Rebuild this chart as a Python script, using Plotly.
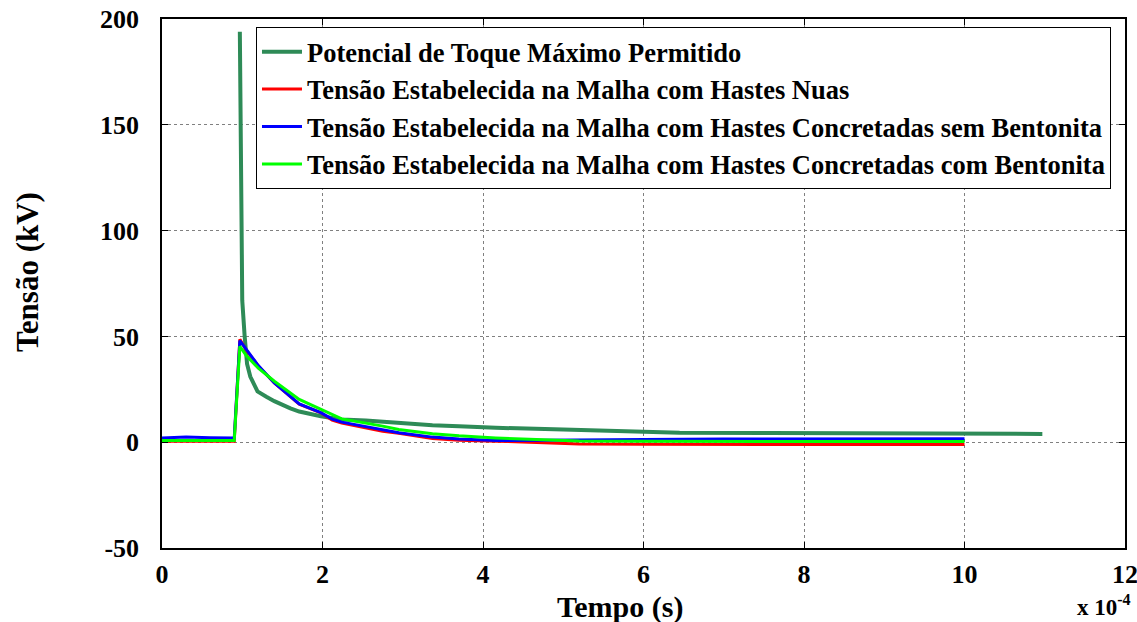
import plotly.graph_objects as go

# time in units of 1e-4 s, voltage in kV
t_pot = [0.97, 0.98, 1.0, 1.03, 1.06, 1.1, 1.19, 1.3, 1.4, 1.6, 1.71, 1.98, 2.24, 2.54, 2.95,
         3.37, 3.7, 4.16, 5.0, 5.6, 6.45, 7.57, 8.94, 10.0, 10.97]
v_pot = [194, 150, 67, 50, 37, 31, 24, 21.5, 19.4, 16, 14.5, 12.3, 10.7, 10.2, 9.0,
         8.0, 7.5, 6.8, 6.0, 5.2, 4.5, 4.3, 4.1, 4.0, 3.9]

t_nuas = [0, 0.3, 0.6, 0.9, 0.97, 1.05, 1.2, 1.4, 1.71, 1.98, 2.12, 2.24, 2.75, 2.95, 3.37,
          3.7, 4.16, 5.2, 6.0, 7.0, 8.0, 9.0, 10.0]
v_nuas = [0.5, 0.6, 0.5, 0.5, 48.6, 43.5, 36.0, 28.0, 18.0, 13.9, 10.4, 9.1, 5.2, 4.2, 1.7,
          0.9, 0.5, -0.8, -1.0, -1.0, -1.0, -1.1, -1.1]

t_sem = [0, 0.3, 0.6, 0.9, 0.97, 1.05, 1.2, 1.4, 1.71, 1.98, 2.12, 2.24, 2.75, 2.95, 3.37,
         3.7, 4.16, 5.2, 6.0, 7.0, 8.0, 9.0, 10.0]
v_sem = [2.0, 2.4, 2.1, 2.0, 48.0, 43.8, 36.2, 28.0, 18.1, 14.0, 10.9, 9.5, 5.7, 4.5, 2.4,
         1.5, 0.8, 1.2, 1.3, 1.5, 1.5, 1.6, 1.6]

t_com = [0, 0.3, 0.6, 0.9, 0.97, 1.05, 1.2, 1.4, 1.71, 1.98, 2.12, 2.24, 2.75, 2.95, 3.37,
         3.7, 4.16, 5.2, 6.0, 7.0, 8.0, 9.0, 10.0]
v_com = [0.8, 0.8, 0.8, 0.8, 45.3, 41.0, 35.0, 28.8, 20.2, 15.6, 13.0, 11.0, 7.6, 6.0, 4.0,
         3.0, 2.0, 0.6, 0.4, 0.3, 0.3, 0.3, 0.3]

names = ["Potencial de Toque Máximo Permitido",
         "Tensão Estabelecida na Malha com Hastes Nuas",
         "Tensão Estabelecida na Malha com Hastes Concretadas sem Bentonita",
         "Tensão Estabelecida na Malha com Hastes Concretadas com Bentonita"]
colors = ["#2E8B57", "#FF0000", "#0000FF", "#00FF00"]
widths = [4, 3, 3, 3]

x_ticks = [0, 2, 4, 6, 8, 10, 12]
y_ticks = [-50, 0, 50, 100, 150, 200]

FONT = "Liberation Serif, Times New Roman, serif"

fig = go.Figure()
for t, v, n, c, w in zip([t_pot, t_nuas, t_sem, t_com], [v_pot, v_nuas, v_sem, v_com],
                         names, colors, widths):
    fig.add_trace(go.Scatter(x=t, y=v, mode="lines", name=n,
                             line=dict(color=c, width=w)))

axis_common = dict(showline=True, linecolor="black", linewidth=1.5, mirror="ticks",
                   ticks="inside", ticklen=6, tickcolor="black",
                   showgrid=True, gridcolor="#808080", griddash="dot", gridwidth=1,
                   zeroline=False, automargin=False, ticklabeloverflow="allow",
                   tickfont=dict(family=FONT, size=26, color="black", weight="bold"))

fig.update_xaxes(range=[0, 12], tickvals=x_ticks, ticktext=[str(v) for v in x_ticks],
                 ticklabelstandoff=2, **axis_common)
fig.update_yaxes(range=[-50, 200], tickvals=y_ticks, ticktext=[str(v) for v in y_ticks],
                 ticklabelstandoff=16, **axis_common)

fig.update_layout(
    width=1137, height=622,
    margin=dict(l=162, r=12, t=19, b=74),
    paper_bgcolor="white", plot_bgcolor="white",
    font=dict(family=FONT, color="black"),
    showlegend=True,
    legend=dict(x=0.0976, y=0.985, xanchor="left", yanchor="top",
                bgcolor="white", bordercolor="black", borderwidth=1,
                font=dict(family=FONT, size=26.5, color="black", weight="bold"),
                tracegroupgap=0, itemwidth=40),
    annotations=[
        dict(text="Tempo (s)", xref="paper", yref="paper", x=0.4756, y=-0.1115,
             xanchor="center", yanchor="middle", showarrow=False,
             font=dict(family=FONT, size=30, color="black", weight="bold")),
        dict(text="Tensão (kV)", xref="paper", yref="paper", x=-0.139, y=0.522,
             xanchor="center", yanchor="middle", textangle=-90, showarrow=False,
             font=dict(family=FONT, size=31, color="black", weight="bold")),
        dict(text="x 10<sup>-4</sup>", xref="paper", yref="paper", x=1.008, y=-0.108,
             xanchor="right", yanchor="middle", showarrow=False,
             font=dict(family=FONT, size=23, color="black", weight="bold")),
    ],
)

fig.write_html("out.html")
